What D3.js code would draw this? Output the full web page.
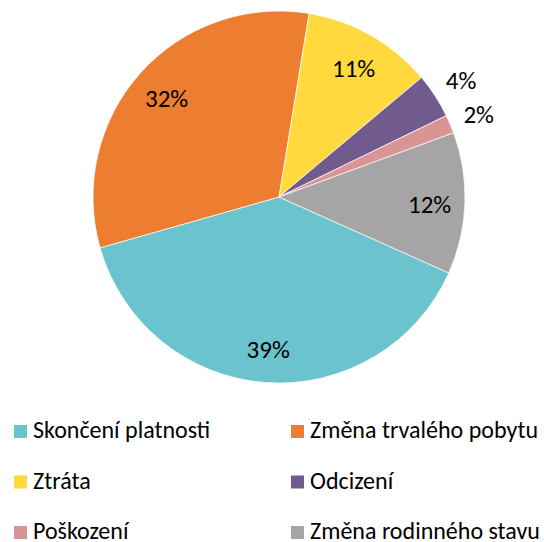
<!DOCTYPE html>
<html>
<head>
<meta charset="utf-8">
<script src="https://cdn.jsdelivr.net/npm/d3@7"></script>
<style>
  html, body { margin: 0; padding: 0; background: #fff; }
  svg { display: block; font-family: Calibri, Carlito, "Open Sans", sans-serif; }
</style>
</head>
<body>
<div id="chart"></div>
<script>
// data (percent shares)
const categories = ["Skončení platnosti", "Změna trvalého pobytu", "Ztráta", "Odcizení", "Poškození", "Změna rodinného stavu"];
const values = [38.9, 32.0, 11.3, 3.9, 1.6, 12.3];
const colors = ["#6BC3CD", "#ED7D31", "#FFD93D", "#705A8E", "#D99594", "#A5A5A5"];
// small slices get their label outside the pie
const outside = [false, false, false, true, true, false];

const width = 544, height = 542;
const cx = 279, cy = 197, radius = 186;

const svg = d3.select("#chart").append("svg")
    .attr("width", width)
    .attr("height", height);

const data = categories.map((c, i) => ({ name: c, value: values[i], color: colors[i], outside: outside[i] }));
const total = d3.sum(values);

const startDeg = 114.1;
const pie = d3.pie()
    .value(d => d.value)
    .sort(null)
    .startAngle(startDeg * Math.PI / 180)
    .endAngle((startDeg + 360) * Math.PI / 180);

const arc = d3.arc().innerRadius(0).outerRadius(radius);
const labelIn = d3.arc().innerRadius(radius * 0.81).outerRadius(radius * 0.81);
const labelOut = d3.arc().innerRadius(radius + 31).outerRadius(radius + 31);

const g = svg.append("g").attr("transform", `translate(${cx},${cy})`);
const arcs = pie(data);

g.selectAll("path")
    .data(arcs)
    .join("path")
    .attr("d", arc)
    .attr("fill", d => d.data.color)
    .attr("stroke", "#fff")
    .attr("stroke-width", 0.7);

g.selectAll("text")
    .data(arcs)
    .join("text")
    .attr("transform", d => `translate(${(d.data.outside ? labelOut : labelIn).centroid(d)})`)
    .attr("text-anchor", "middle")
    .attr("dy", "0.42em")
    .style("font-size", "25px")
    .style("fill", "#000")
    .text(d => Math.round(d.data.value / total * 100) + "%");

// Legend
const legend = svg.append("g");
data.forEach((d, i) => {
    const col = i % 2, row = Math.floor(i / 2);
    const item = legend.append("g")
        .attr("transform", `translate(${col === 0 ? 14 : 291},${425 + row * 50.5})`);
    item.append("rect")
        .attr("width", 13)
        .attr("height", 13)
        .attr("fill", d.color);
    item.append("text")
        .attr("x", 19)
        .attr("y", 13)
        .style("font-size", "24px")
        .style("fill", "#000")
        .text(d.name);
});
</script>
</body>
</html>
